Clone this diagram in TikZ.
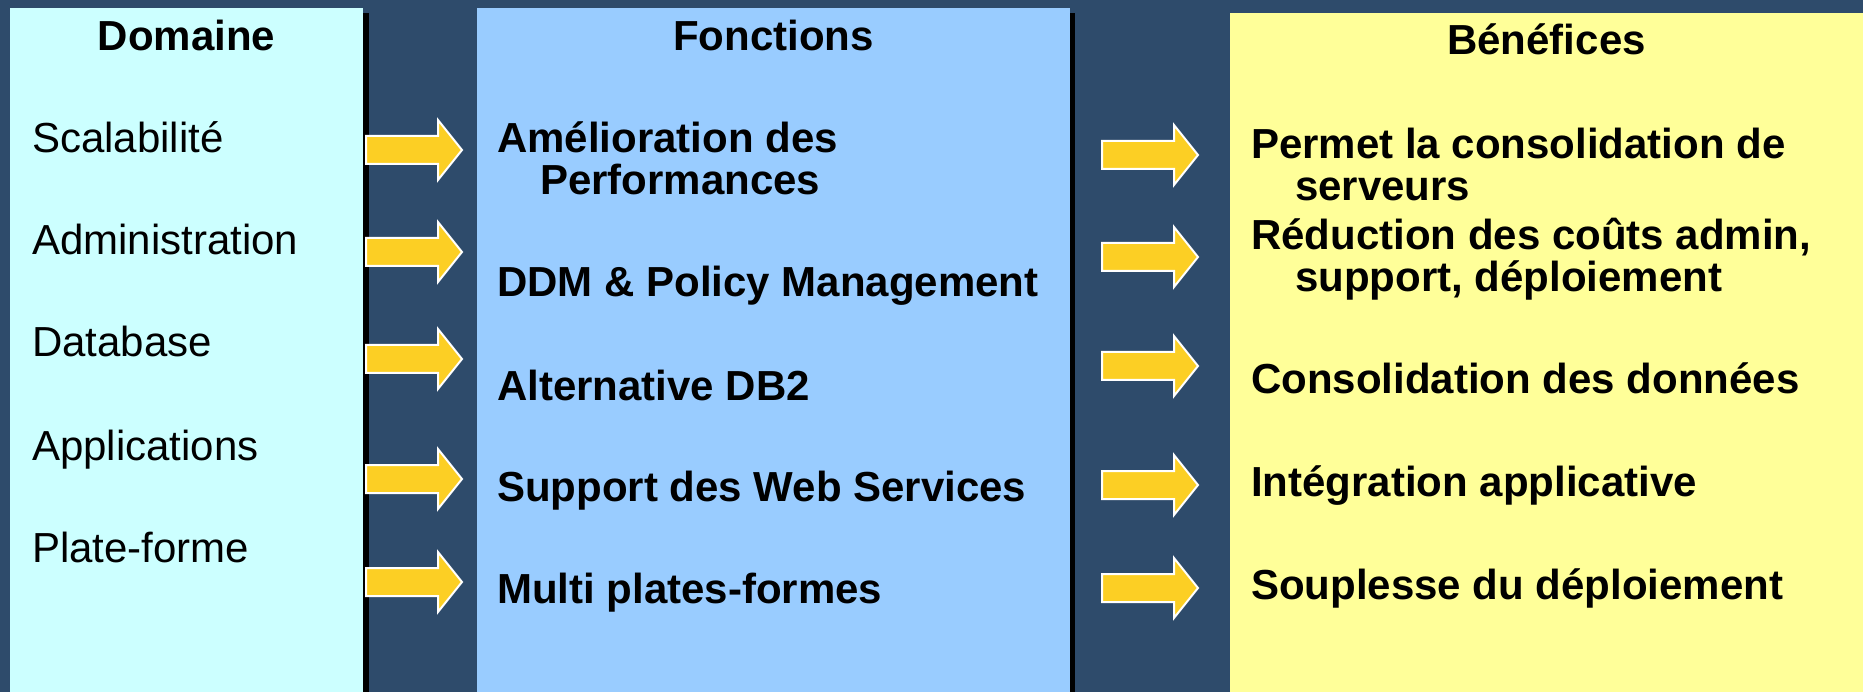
\documentclass[tikz,border=0pt]{standalone}
\usepackage{fontspec}
\setmainfont{Liberation Sans}
\usetikzlibrary{positioning}

\definecolor{fond}{HTML}{2E4B6B}
\definecolor{domcol}{HTML}{CCFFFF}
\definecolor{foncol}{HTML}{99CCFF}
\definecolor{bencol}{HTML}{FFFF99}
\definecolor{flechecol}{HTML}{FCCF24}

\begin{document}
\begin{tikzpicture}[
        x=1pt, y=-1pt,
        column/.style = {inner sep=0, outer sep=0, anchor=north west},
        title/.style = {font=\fontsize{42}{42}\selectfont\bfseries,
                        anchor=base, inner sep=0},
        item/.style = {font=\fontsize{42}{42}\selectfont,
                       anchor=base west, inner sep=0, align=left},
        bitem/.style = {item, font=\fontsize{42}{42}\selectfont\bfseries},
        flatarrow/.pic = {
            \draw [fill=flechecol, draw=white, line width=2pt, line join=miter]
                (0,-14) -- (72,-14) -- (72,-30) -- (96,0)
                -- (72,30) -- (72,14) -- (0,14) -- cycle;
        },
        ]
        % background and columns
        \fill [fond] (0,0) rectangle (1863,692);
        \fill [black] (363,13) rectangle (369,692);
        \fill [black] (1070,13) rectangle (1075,692);
        \node [column, fill=domcol, minimum width=353pt, minimum height=684pt]
            (dom) at (10,8) {};
        \node [column, fill=foncol, minimum width=593pt, minimum height=684pt]
            (fon) at (477,8) {};
        \node [column, fill=bencol, minimum width=633pt, minimum height=679pt]
            (ben) at (1230,13) {};

        % titles
        \node [title] (domT) at (186.5,51) {Domaine};
        \node [title] (fonT) at (773.5,51) {Fonctions};
        \node [title] (benT) at (1546.5,55) {Bénéfices};

        % Domaine
        \node [item] (d1) at (32,153) {Scalabilité};
        \node [item] (d2) at (32,255) {Administration};
        \node [item] (d3) at (32,357) {Database};
        \node [item] (d4) at (32,460) {Applications};
        \node [item] (d5) at (32,562) {Plate-forme};

        % Fonctions (two-line nodes sit on their last line)
        \node [bitem] (f1) at (497,195) {Amélioration des\\\hspace*{43pt}Performances};
        \node [bitem] (f2) at (497,297) {DDM \& Policy Management};
        \node [bitem] (f3) at (497,400) {Alternative DB2};
        \node [bitem] (f4) at (497,501) {Support des Web Services};
        \node [bitem] (f5) at (497,603) {Multi plates-formes};

        % Benefices
        \node [bitem] (b1) at (1251,201) {Permet la consolidation de\\\hspace*{44pt}serveurs};
        \node [bitem] (b2) at (1251,292) {Réduction des coûts admin,\\\hspace*{44pt}support, déploiement};
        \node [bitem] (b3) at (1251,394) {Consolidation des données};
        \node [bitem] (b4) at (1251,496) {Intégration applicative};
        \node [bitem] (b5) at (1251,599) {Souplesse du déploiement};

        % arrows
        \foreach \ya/\yb [count=\i] in {150/155, 252/257, 359/366, 479/485, 582/588} {
            \pic (ga\i) at (366,\ya) {flatarrow};
            \pic (dr\i) at (1102,\yb) {flatarrow};
        }
    \end{tikzpicture}
\end{document}
